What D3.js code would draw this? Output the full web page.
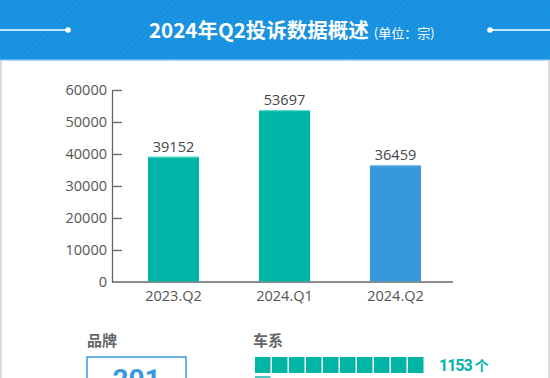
<!DOCTYPE html>
<html>
<head>
<meta charset="utf-8">
<script src="https://cdn.jsdelivr.net/npm/d3@7"></script>
<style>
  body { margin: 0; background: #fff; }
  svg { display: block; }
</style>
</head>
<body>
<svg id="chart" width="550" height="378"></svg>
<script>
// values
var quarters = ["2023.Q2", "2024.Q1", "2024.Q2"];
var complaints = [39152, 53697, 36459];
var yTicks = [0, 10000, 20000, 30000, 40000, 50000, 60000];
var brandCount = ["201"];
var seriesCount = [1153];
var seriesBlocks = [10, 1];

var teal = "#00b5a6";
var blue = "#3898dc";
var headBlue = "#1690e0";
var grey = "#555";
var cjk = "'Noto Sans CJK SC', 'Noto Sans', sans-serif";
var latin = "'Open Sans', 'Noto Sans', sans-serif";

var svg = d3.select("#chart");

// Header band with faint diagonal stripes
var defs = svg.append("defs");
var pat = defs.append("pattern")
    .attr("id", "stripes")
    .attr("width", 4)
    .attr("height", 4)
    .attr("patternUnits", "userSpaceOnUse")
    .attr("patternTransform", "rotate(45)");
pat.append("rect").attr("width", 4).attr("height", 4).style("fill", headBlue);
pat.append("line")
    .attr("x1", 0).attr("y1", 0).attr("x2", 0).attr("y2", 4)
    .style("stroke", "#fff").style("stroke-opacity", 0.07).style("stroke-width", 1.5);

svg.append("rect")
    .attr("x", 0).attr("y", 0).attr("width", 550).attr("height", 60)
    .style("fill", "url(#stripes)");
svg.append("rect")
    .attr("x", 0).attr("y", 59).attr("width", 550).attr("height", 1.5)
    .style("fill", "#5ab3ee");

// white panel side borders
svg.append("line")
    .attr("x1", 1).attr("y1", 60).attr("x2", 1).attr("y2", 378)
    .style("stroke", "#cfcfcf").style("stroke-width", 1.5);
svg.append("line")
    .attr("x1", 549).attr("y1", 60).attr("x2", 549).attr("y2", 378)
    .style("stroke", "#cfcfcf").style("stroke-width", 1.5);

// header lines + dots
svg.append("line")
    .attr("x1", 0).attr("y1", 30).attr("x2", 68).attr("y2", 30)
    .style("stroke", "#fff").style("stroke-width", 1.5);
svg.append("circle").attr("cx", 68).attr("cy", 30).attr("r", 2.8).style("fill", "#fff");
svg.append("line")
    .attr("x1", 490).attr("y1", 30).attr("x2", 550).attr("y2", 30)
    .style("stroke", "#fff").style("stroke-width", 1.5);
svg.append("circle").attr("cx", 490).attr("cy", 30).attr("r", 2.8).style("fill", "#fff");

// Title
var title = svg.append("text")
    .attr("x", 149)
    .attr("y", 38)
    .style("font-family", cjk)
    .style("fill", "#fff");
title.append("tspan")
    .style("font-size", "20.5px")
    .style("font-weight", "bold")
    .text("2024年Q2投诉数据概述");
title.append("tspan")
    .attr("dx", 5)
    .style("font-size", "13px")
    .text("(单位：宗)");

// Bar chart
var x = d3.scaleBand()
    .domain(quarters)
    .range([118, 451])
    .paddingInner(0.54)
    .paddingOuter(0.27);

var y = d3.scaleLinear()
    .domain([0, 60000])
    .range([282, 90]);

var yAxis = svg.append("g")
    .attr("transform", "translate(112,0)")
    .call(d3.axisLeft(y)
        .tickValues(yTicks)
        .tickFormat(d3.format("d"))
        .tickSizeInner(-10)
        .tickSizeOuter(0)
        .tickPadding(5));
yAxis.selectAll("text")
    .style("font-family", latin)
    .style("font-size", "14.5px")
    .style("fill", grey);
yAxis.selectAll("line").style("stroke", "#666").style("stroke-width", 1.3);
yAxis.select(".domain").style("stroke", "#666").style("stroke-width", 1.3);
yAxis.selectAll(".tick").filter(function(d) { return d === 0; }).select("line").remove();

var xAxis = svg.append("g")
    .attr("transform", "translate(0,282)")
    .call(d3.axisBottom(x).tickSize(0).tickPadding(9));
xAxis.select(".domain")
    .attr("d", "M112,0H453")
    .style("stroke", "#666").style("stroke-width", 1.3);
xAxis.selectAll("text")
    .style("font-family", latin)
    .style("font-size", "14.5px")
    .style("fill", grey);

var bars = svg.append("g").selectAll("g")
    .data(quarters)
    .join("g");

bars.append("rect")
    .attr("x", function(d) { return x(d); })
    .attr("y", function(d, i) { return y(complaints[i]); })
    .attr("width", x.bandwidth())
    .attr("height", function(d, i) { return y(0) - y(complaints[i]) - 0.6; })
    .style("fill", function(d, i) { return i === 2 ? blue : teal; });

// light top edge on each bar
bars.append("rect")
    .attr("x", function(d) { return x(d); })
    .attr("y", function(d, i) { return y(complaints[i]); })
    .attr("width", x.bandwidth())
    .attr("height", 1)
    .style("fill", function(d, i) { return i === 2 ? "#7cc4f2" : "#66e3d8"; });

bars.append("text")
    .attr("x", function(d) { return x(d) + x.bandwidth() / 2; })
    .attr("y", function(d, i) { return y(complaints[i]) - 5; })
    .attr("text-anchor", "middle")
    .style("font-family", latin)
    .style("font-size", "14.5px")
    .style("fill", "#444")
    .text(function(d, i) { return complaints[i]; });

// Bottom: brand / series summary
svg.append("text")
    .attr("x", 87).attr("y", 346)
    .style("font-family", cjk)
    .style("font-size", "15px")
    .style("font-weight", "bold")
    .style("fill", "#666")
    .text("品牌");

svg.append("rect")
    .attr("x", 87).attr("y", 357).attr("width", 99).attr("height", 40)
    .style("fill", "#fff")
    .style("stroke", blue)
    .style("stroke-width", 1.5);

svg.append("text")
    .attr("x", 136.5).attr("y", 389)
    .attr("text-anchor", "middle")
    .style("font-family", "Roboto, sans-serif")
    .style("font-size", "28px")
    .style("font-weight", "bold")
    .style("fill", blue)
    .text(brandCount[0]);

svg.append("text")
    .attr("x", 253).attr("y", 346)
    .style("font-family", cjk)
    .style("font-size", "15px")
    .style("font-weight", "bold")
    .style("fill", "#666")
    .text("车系");

var blockX = d3.scaleLinear().domain([0, 1]).range([255, 272]);
seriesBlocks.forEach(function(n, row) {
    svg.append("g").selectAll("rect")
        .data(d3.range(n))
        .join("rect")
        .attr("x", function(d) { return blockX(d); })
        .attr("y", 357 + row * 19)
        .attr("width", 15.5)
        .attr("height", 16)
        .style("fill", row === 0 ? teal : "#4cc9bf");
});

var cnt = svg.append("text")
    .attr("x", 439).attr("y", 371)
    .style("fill", teal)
    .style("font-weight", "bold");
cnt.append("tspan")
    .style("font-family", "Roboto, sans-serif")
    .style("font-size", "16px")
    .style("letter-spacing", "-1px")
    .text(seriesCount[0]);
cnt.append("tspan")
    .attr("dx", 3)
    .style("font-family", cjk)
    .style("font-size", "14px")
    .text("个");
</script>
</body>
</html>
